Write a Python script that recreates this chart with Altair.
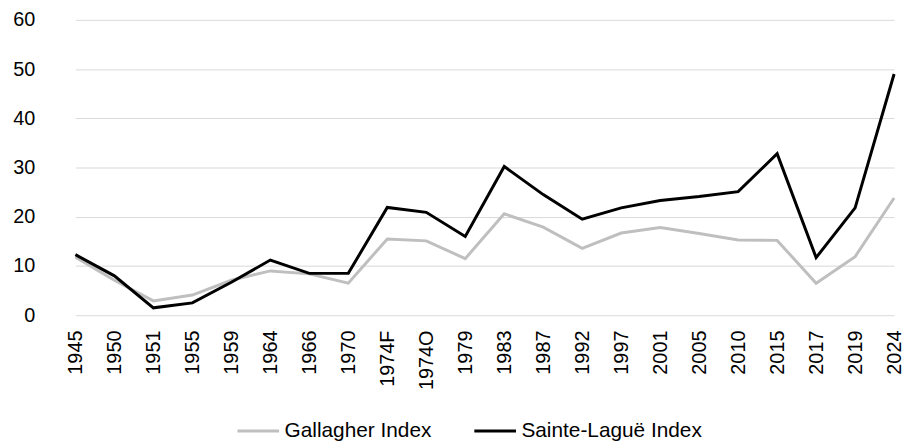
import altair as alt
import pandas as pd

years = ["1945", "1950", "1951", "1955", "1959", "1964", "1966", "1970", "1974F", "1974O",
         "1979", "1983", "1987", "1992", "1997", "2001", "2005", "2010", "2015", "2017",
         "2019", "2024"]
gallagher = [11.8, 7.1, 2.9, 4.1, 7.1, 9.0, 8.4, 6.5, 15.5, 15.1,
             11.5, 20.6, 17.9, 13.6, 16.7, 17.8, 16.6, 15.3, 15.2, 6.5,
             11.9, 23.8]
sainte_lague = [12.3, 8.0, 1.5, 2.5, 6.7, 11.2, 8.5, 8.5, 21.9, 20.9,
                16.0, 30.2, 24.5, 19.5, 21.8, 23.3, 24.1, 25.1, 32.8, 11.7,
                21.8, 49.0]
series_names = ["Gallagher Index", "Sainte-Laguë Index"]
series_colors = ["#bfbfbf", "#000000"]

rows = []
for name, vals in zip(series_names, [gallagher, sainte_lague]):
    for i, (y, v) in enumerate(zip(years, vals)):
        rows.append({"year": y, "value": v, "series": name, "order": i})
df = pd.DataFrame(rows)

font = "Liberation Sans"

chart = alt.Chart(df).mark_line(strokeWidth=3, strokeJoin="miter").encode(
    x=alt.X("year:N", sort=years, title=None,
            scale=alt.Scale(type="point", padding=0, range=[19, 845]),
            axis=alt.Axis(labelAngle=270, labelFontSize=20, labelFont=font,
                          labelColor="#000000", ticks=False, domain=False,
                          labelPadding=15, grid=False)),
    y=alt.Y("value:Q", title=None,
            scale=alt.Scale(domain=[0, 60], nice=False),
            axis=alt.Axis(values=[0, 10, 20, 30, 40, 50, 60], labelFontSize=20,
                          labelFont=font, labelColor="#000000", ticks=False,
                          domain=False, labelPadding=22, gridColor="#d9d9d9",
                          gridWidth=1)),
    color=alt.Color("series:N", sort=series_names,
                    scale=alt.Scale(domain=series_names, range=series_colors),
                    legend=alt.Legend(title=None, orient="none", direction="horizontal",
                                      legendX=181, legendY=392,
                                      symbolType="stroke", symbolSize=1764,
                                      symbolStrokeWidth=3, labelFontSize=21,
                                      labelFont=font, labelOffset=4, labelLimit=400,
                                      labelColor="#000000", columnPadding=36)),
    order=alt.Order("order:Q"),
    detail="series:N",
).properties(
    width=850, height=298,
    autosize=alt.AutoSizeParams(type="none"),
    padding={"left": 49, "top": 10, "right": 6, "bottom": 130},
).configure_view(stroke=None)

chart.save("out.html", embed_options={"renderer": "svg", "actions": False})
